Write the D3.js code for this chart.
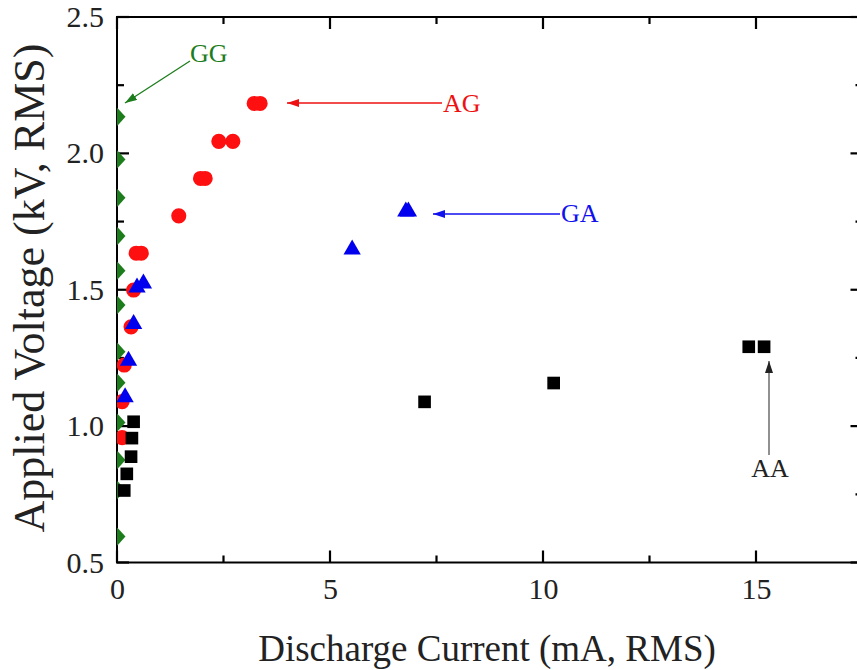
<!DOCTYPE html>
<html>
<head>
<meta charset="utf-8">
<script src="https://cdn.jsdelivr.net/npm/d3@7"></script>
<style>
body { margin: 0; background: #fff; }
</style>
</head>
<body>
<script>
// Data: discharge current (mA) vs applied voltage (kV)
var ggCurrent = [0.01, 0.01, 0.01, 0.01, 0.01, 0.01, 0.01, 0.01, 0.01, 0.01, 0.01, 0.01];
var ggVoltage = [2.134, 1.978, 1.837, 1.697, 1.570, 1.444, 1.273, 1.159, 1.013, 0.876, 0.766, 0.595];

var agCurrent = [3.22, 3.36, 2.39, 2.72, 1.96, 2.07, 1.45, 0.45, 0.57, 0.39, 0.33, 0.17, 0.12, 0.12];
var agVoltage = [2.183, 2.183, 2.044, 2.044, 1.908, 1.908, 1.771, 1.634, 1.634, 1.499, 1.364, 1.224, 1.090, 0.958];

var gaCurrent = [6.78, 6.84, 5.52, 0.62, 0.47, 0.39, 0.27, 0.19];
var gaVoltage = [1.787, 1.787, 1.648, 1.523, 1.508, 1.374, 1.240, 1.106];

var aaCurrent = [14.83, 15.19, 10.25, 7.22, 0.39, 0.35, 0.33, 0.23, 0.17];
var aaVoltage = [1.291, 1.291, 1.158, 1.089, 1.016, 0.956, 0.888, 0.825, 0.764];

var xTicks = [0, 5, 10, 15];
var yTicks = [0.5, 1.0, 1.5, 2.0, 2.5];

var W = 857, H = 670;
var margin = {top: 17, left: 117, bottom: 107.5};
var xMax = 17.5;
var serif = "'Liberation Serif', 'DejaVu Serif', 'Times New Roman', serif";

var svg = d3.select("body").append("svg")
    .attr("width", W).attr("height", H)
    .style("font-family", serif);

var x = d3.scaleLinear().domain([0, xMax]).range([margin.left, margin.left + 42.6 * xMax]);
var y = d3.scaleLinear().domain([0.5, 2.5]).range([H - margin.bottom, margin.top]);

var x0 = x(0), x1 = x(xMax), y0 = y(0.5), y1 = y(2.5);

var defs = svg.append("defs");
// clip for markers
defs.append("clipPath").attr("id", "plotclip")
    .append("rect").attr("x", x0).attr("y", y1).attr("width", x1 - x0).attr("height", y0 - y1);

// arrow heads
var arrowColors = {green: "#1d7d1d", red: "#ee1111", blue: "#1111ee", black: "#222"};
Object.keys(arrowColors).forEach(function(k) {
    defs.append("marker")
        .attr("id", "arr-" + k)
        .attr("viewBox", "0 0 12 8")
        .attr("refX", 12).attr("refY", 4)
        .attr("markerWidth", 12).attr("markerHeight", 8)
        .attr("markerUnits", "userSpaceOnUse")
        .attr("orient", "auto")
        .append("path").attr("d", "M0,0 L12,4 L0,8 Z")
        .attr("fill", arrowColors[k]);
});

// tick labels with d3 axes (tick marks drawn separately below)
function styleAxis(g) {
    g.attr("font-family", serif);
    g.select(".domain").remove();
    g.selectAll(".tick line").remove();
    g.selectAll(".tick text").attr("font-size", 30).attr("fill", "#222").attr("font-family", serif);
}
svg.append("g").attr("transform", "translate(0," + y0 + ")")
    .call(d3.axisBottom(x).tickValues(xTicks).tickSize(0).tickPadding(15).tickFormat(d3.format("d")))
    .call(styleAxis);
svg.append("g").attr("transform", "translate(" + x0 + ",0)")
    .call(d3.axisLeft(y).tickValues(yTicks).tickSize(0).tickPadding(13).tickFormat(d3.format(".1f")))
    .call(styleAxis);

// inward tick marks on all four sides
var xMinor = d3.range(2.5, xMax + 0.01, 5);
var yMinor = d3.range(0.75, 2.5, 0.5);
var tk = svg.append("g").attr("stroke", "#000").attr("stroke-width", 2.2);
function ticksX(vals, len) {
    vals.forEach(function(v) {
        tk.append("line").attr("x1", x(v)).attr("x2", x(v)).attr("y1", y0).attr("y2", y0 - len);
        tk.append("line").attr("x1", x(v)).attr("x2", x(v)).attr("y1", y1).attr("y2", y1 + len);
    });
}
function ticksY(vals, len) {
    vals.forEach(function(v) {
        tk.append("line").attr("y1", y(v)).attr("y2", y(v)).attr("x1", x0).attr("x2", x0 + len);
        tk.append("line").attr("y1", y(v)).attr("y2", y(v)).attr("x1", x1).attr("x2", x1 - len);
    });
}
ticksX(xTicks, 12);
ticksX(xMinor, 7);
ticksY(yTicks, 12);
ticksY(yMinor, 7);

// frame
svg.append("rect")
    .attr("x", x0).attr("y", y1).attr("width", x1 - x0).attr("height", y0 - y1)
    .attr("fill", "none").attr("stroke", "#000").attr("stroke-width", 2);

// axis titles
svg.append("text")
    .attr("x", 487).attr("y", 661)
    .attr("text-anchor", "middle")
    .attr("font-family", serif)
    .attr("font-size", 37).attr("fill", "#222")
    .text("Discharge Current (mA, RMS)");
svg.append("text")
    .attr("transform", "translate(44,288) rotate(-90)")
    .attr("text-anchor", "middle")
    .attr("font-family", serif)
    .attr("font-size", 44).attr("fill", "#222")
    .text("Applied Voltage (kV, RMS)");

// custom diamond (wider than d3's)
var wideDiamond = {
    draw: function(ctx, size) {
        var h = Math.sqrt(size) / 2;
        var w = h * 0.9;
        ctx.moveTo(0, -h); ctx.lineTo(w, 0); ctx.lineTo(0, h); ctx.lineTo(-w, 0); ctx.closePath();
    }
};

var series = [
    {name: "GG", xs: ggCurrent, ys: ggVoltage, color: "#1d7d1d", type: wideDiamond, size: 320},
    {name: "AG", xs: agCurrent, ys: agVoltage, color: "#ff1010", type: d3.symbolCircle, size: 180},
    {name: "GA", xs: gaCurrent, ys: gaVoltage, color: "#0000ee", type: d3.symbolTriangle, size: 130},
    {name: "AA", xs: aaCurrent, ys: aaVoltage, color: "#000", type: d3.symbolSquare, size: 160}
];

var marks = svg.append("g").attr("clip-path", "url(#plotclip)");
series.forEach(function(s) {
    var pts = s.xs.map(function(v, i) { return [v, s.ys[i]]; });
    marks.append("g").selectAll("path").data(pts).enter().append("path")
        .attr("transform", function(d) { return "translate(" + x(d[0]) + "," + y(d[1]) + ")"; })
        .attr("d", d3.symbol().type(s.type).size(s.size))
        .attr("fill", s.color);
});

// annotations
var notes = [
    {label: "GG", color: "green", tx: 190, ty: 62, x1: 190, y1: 61, x2: 125, y2: 103, anchor: "start"},
    {label: "AG", color: "red", tx: 443, ty: 112, x1: 442, y1: 103, x2: 287, y2: 103, anchor: "start"},
    {label: "GA", color: "blue", tx: 561, ty: 222, x1: 560, y1: 214, x2: 433, y2: 214, anchor: "start"},
    {label: "AA", color: "black", tx: 770, ty: 477, x1: 769, y1: 455, x2: 769, y2: 361, anchor: "middle"}
];
var textColors = {green: "#1d7d1d", red: "#ee1111", blue: "#1111ee", black: "#222"};
notes.forEach(function(n) {
    svg.append("line")
        .attr("x1", n.x1).attr("y1", n.y1).attr("x2", n.x2).attr("y2", n.y2)
        .attr("stroke", n.color === "black" ? "#555" : arrowColors[n.color])
        .attr("stroke-width", 1.3)
        .attr("marker-end", "url(#arr-" + n.color + ")");
    svg.append("text")
        .attr("x", n.tx).attr("y", n.ty)
        .attr("text-anchor", n.anchor)
        .attr("font-family", serif)
        .attr("font-size", 26)
        .attr("fill", textColors[n.color])
        .text(n.label);
});
</script>
</body>
</html>
